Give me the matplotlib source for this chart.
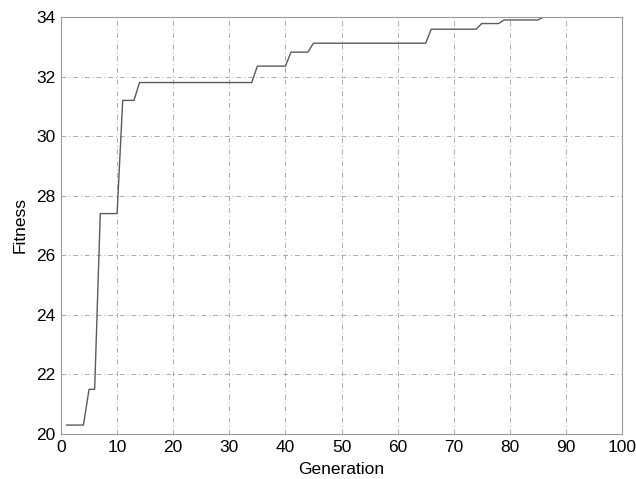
import matplotlib
matplotlib.use("Agg")
import matplotlib.pyplot as plt

generation = [1, 2, 3, 4, 5, 6, 7, 8, 9, 10, 11, 12, 13, 14, 20, 30, 34, 35, 40, 41, 44, 45,
              50, 60, 65, 66, 70, 74, 75, 78, 79, 85, 86, 100]
fitness = [20.3, 20.3, 20.3, 20.3, 21.5, 21.5, 27.4, 27.4, 27.4, 27.4, 31.2, 31.2, 31.2, 31.8,
           31.8, 31.8, 31.8, 32.35, 32.35, 32.82, 32.82, 33.12, 33.12, 33.12, 33.12, 33.59,
           33.59, 33.59, 33.78, 33.78, 33.9, 33.9, 34.0, 34.0]

xticks = [0, 10, 20, 30, 40, 50, 60, 70, 80, 90, 100]
yticks = [20, 22, 24, 26, 28, 30, 32, 34]

plt.rcParams['font.family'] = ['Liberation Sans', 'DejaVu Sans']

fig = plt.figure(figsize=(6.36, 4.79), dpi=100)
ax = fig.add_axes([61/636, 45/479, 561/636, 417/479])
ax.plot(generation, fitness, color='#5a5a5a', linewidth=1.0)
ax.set_xlim(0, 100)
ax.set_ylim(20, 34)
ax.set_xticks(xticks)
ax.set_yticks(yticks)
ax.tick_params(direction='in', length=0, labelsize=12.5, colors='black', pad=4)
ax.grid(True, color='#aaaaaa', linestyle=(0, (5, 3, 1, 3)), linewidth=0.7)
for s in ax.spines.values():
    s.set_color('#999999')
    s.set_linewidth(0.8)
ax.set_xlabel('Generation', fontsize=12.5, labelpad=5)
ax.set_ylabel('Fitness', fontsize=12.5, labelpad=6)
fig.savefig('out.png', dpi=100)
